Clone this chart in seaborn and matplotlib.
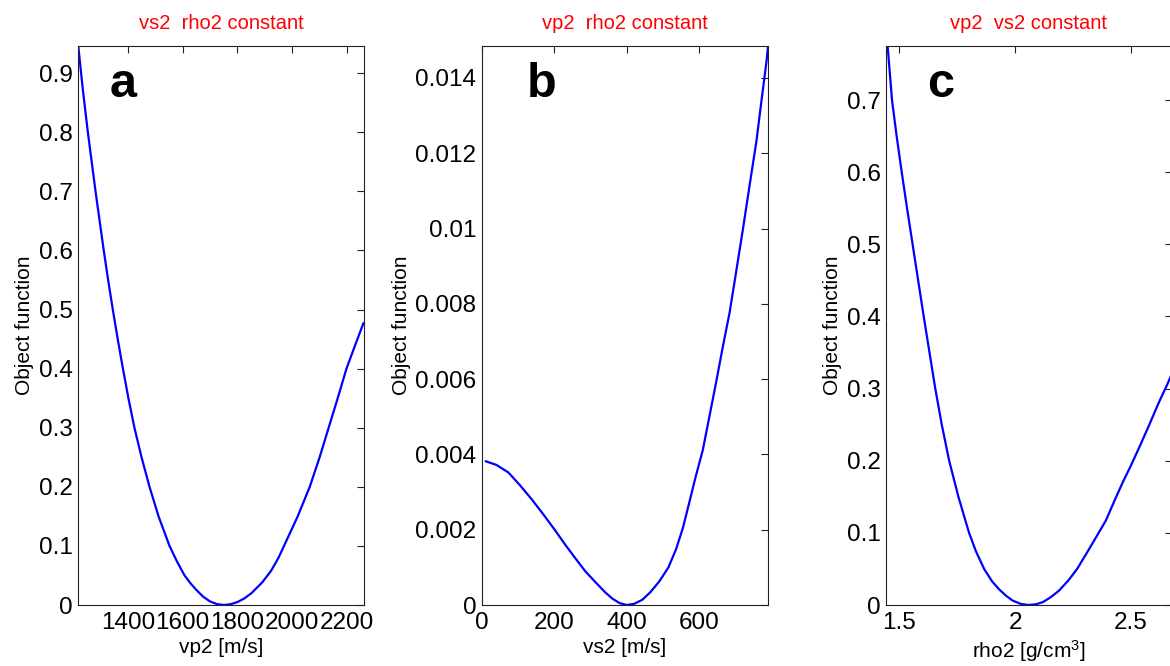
import numpy as np
import pandas as pd
import matplotlib
matplotlib.use("Agg")
import matplotlib.pyplot as plt
import seaborn as sns

# ---------------- data ----------------
vp2_x = [1218, 1235, 1254, 1268, 1282, 1297, 1312, 1328, 1345, 1363, 1382, 1402,
         1424, 1450, 1479, 1512, 1552, 1580, 1607, 1630, 1649, 1675, 1700, 1725,
         1750, 1775, 1800, 1825, 1851, 1890, 1923, 1950, 1970, 2020, 2064, 2100,
         2133, 2166, 2198, 2230, 2260]
vp2_y = [0.950, 0.875, 0.80, 0.75, 0.70, 0.65, 0.60, 0.55, 0.50, 0.45, 0.40, 0.35,
         0.30, 0.25, 0.20, 0.15, 0.10, 0.073, 0.050, 0.036, 0.026, 0.014, 0.006,
         0.0015, 0.0, 0.0013, 0.005, 0.011, 0.020, 0.038, 0.058, 0.080, 0.100,
         0.150, 0.200, 0.250, 0.300, 0.350, 0.400, 0.440, 0.477]

vs2_x = [10, 40, 73, 105, 138, 170, 203, 230, 258, 285, 314, 340, 360, 380, 400,
         420, 443, 465, 490, 515, 536, 555, 573, 590, 610, 628, 647, 665, 684, 702,
         721, 740, 758, 772, 786, 790]
vs2_y = [0.00382, 0.00372, 0.00352, 0.00318, 0.00280, 0.00240, 0.00197, 0.00160,
         0.00124, 0.00090, 0.00060, 0.00034, 0.00017, 0.00005, 0.0, 0.00003,
         0.00014, 0.00034, 0.00063, 0.00100, 0.00148, 0.00205, 0.00274, 0.00340,
         0.00412, 0.00500, 0.00593, 0.00685, 0.00777, 0.00885, 0.0100, 0.0112,
         0.01232, 0.0134, 0.01445, 0.01484]

rho2_x = [1.449, 1.468, 1.488, 1.510, 1.533, 1.557, 1.581, 1.605, 1.630, 1.655,
          1.683, 1.715, 1.755, 1.801, 1.830, 1.866, 1.900, 1.930, 1.960, 1.990,
          2.025, 2.057, 2.090, 2.120, 2.155, 2.190, 2.230, 2.268, 2.315, 2.361,
          2.392, 2.430, 2.465, 2.500, 2.540, 2.580, 2.620, 2.655, 2.677]
rho2_y = [0.775, 0.70, 0.65, 0.60, 0.55, 0.50, 0.45, 0.40, 0.35, 0.30,
          0.25, 0.20, 0.15, 0.10, 0.075, 0.050, 0.033, 0.022, 0.013, 0.006,
          0.0015, 0.0, 0.001, 0.004, 0.011, 0.020, 0.034, 0.050, 0.075, 0.100,
          0.117, 0.145, 0.170, 0.193, 0.221, 0.250, 0.280, 0.304, 0.320]

titles = ["vs2  rho2 constant", "vp2  rho2 constant", "vp2  vs2 constant"]
letters = ["a", "b", "c"]
xlabels = ["vp2 [m/s]", "vs2 [m/s]", "rho2 [g/cm$^3$]"]
ylabel = "Object function"

xticks_a = [1400, 1600, 1800, 2000, 2200]
yticks_a = [0, 0.1, 0.2, 0.3, 0.4, 0.5, 0.6, 0.7, 0.8, 0.9]
xticks_b = [0, 200, 400, 600]
yticks_b = [0, 0.002, 0.004, 0.006, 0.008, 0.01, 0.012, 0.014]
xticks_c = [1.5, 2, 2.5]
yticks_c = [0, 0.1, 0.2, 0.3, 0.4, 0.5, 0.6, 0.7]

xlims = [(1218, 2262), (0, 790), (1.442, 2.678)]
ylims = [(0, 0.946), (0, 0.01485), (0, 0.775)]

# ---------------- style ----------------
sns.set_theme(style="white")
plt.rcParams["font.family"] = ["Liberation Sans", "DejaVu Sans"]
plt.rcParams["mathtext.default"] = "regular"
plt.rcParams["axes.edgecolor"] = "#222222"
plt.rcParams["axes.linewidth"] = 0.8

fig = plt.figure(figsize=(11.7, 6.66), dpi=100)
W, H = 1170.0, 666.0
lefts = [78, 482, 886]
aw = 286
top, bottom = 46, 605

datasets = [(vp2_x, vp2_y), (vs2_x, vs2_y), (rho2_x, rho2_y)]
xt = [xticks_a, xticks_b, xticks_c]
yt = [yticks_a, yticks_b, yticks_c]
letter_x = [0.112, 0.157, 0.143]

for i in range(3):
    ax = fig.add_axes([lefts[i] / W, (H - bottom) / H, aw / W, (bottom - top) / H])
    df = pd.DataFrame({"x": datasets[i][0], "y": datasets[i][1]})
    sns.lineplot(data=df, x="x", y="y", ax=ax, color="#0000ff", linewidth=1.6,
                 sort=False, estimator=None)
    ax.set_xlim(*xlims[i])
    ax.set_ylim(*ylims[i])
    ax.set_xticks(xt[i])
    ax.set_xticklabels(["%g" % v for v in xt[i]])
    ax.set_yticks(yt[i])
    ax.set_yticklabels(["%g" % v for v in yt[i]])
    ax.tick_params(direction="in", top=True, right=True, length=5, width=0.8,
                   labelsize=17.5, colors="#222222", labelcolor="black")
    ax.tick_params(axis="x", pad=5)
    ax.tick_params(axis="y", pad=4)
    ax.set_xlabel(xlabels[i], fontsize=15, labelpad=3, color="black")
    ax.set_ylabel(ylabel, fontsize=15, labelpad=3, color="black")
    ax.set_title(titles[i], color="red", fontsize=14.5, pad=12)
    ax.text(letter_x[i], 0.909, letters[i], transform=ax.transAxes, fontsize=35,
            fontweight="bold", va="baseline", ha="left", color="black")
    for s in ax.spines.values():
        s.set_visible(True)

fig.savefig("out.png", dpi=100)
